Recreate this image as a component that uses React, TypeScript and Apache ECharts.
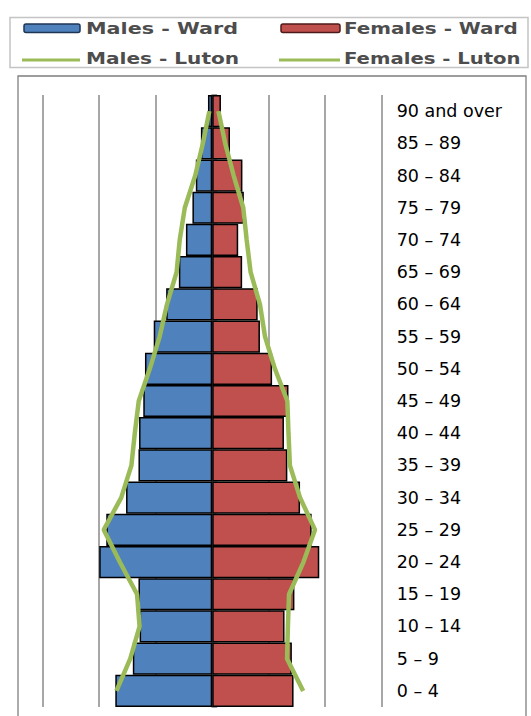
import React, { useEffect, useRef } from "react";
import * as echarts from "echarts";

const categories = [
  "0 – 4", "5 – 9", "10 – 14", "15 – 19", "20 – 24", "25 – 29", "30 – 34",
  "35 – 39", "40 – 44", "45 – 49", "50 – 54", "55 – 59", "60 – 64", "65 – 69",
  "70 – 74", "75 – 79", "80 – 84", "85 – 89", "90 and over",
];

const malesWard = [3.43, 2.81, 2.57, 2.61, 4.0, 3.75, 3.05, 2.61, 2.59, 2.44, 2.38, 2.07, 1.63, 1.18, 0.93, 0.7, 0.58, 0.4, 0.15];
const femalesWard = [2.88, 2.82, 2.56, 2.91, 3.79, 3.52, 3.11, 2.66, 2.54, 2.7, 2.12, 1.69, 1.61, 1.06, 0.92, 1.12, 1.07, 0.63, 0.31];
const malesLuton = [3.39, 2.9, 2.57, 2.66, 3.27, 3.84, 3.22, 2.86, 2.74, 2.6, 2.21, 1.86, 1.6, 1.26, 1.15, 0.97, 0.6, 0.33, 0.1];
const femalesLuton = [3.22, 2.65, 2.68, 2.72, 3.23, 3.64, 3.11, 2.75, 2.7, 2.66, 2.22, 1.87, 1.69, 1.36, 1.22, 1.1, 0.76, 0.46, 0.22];

const legendNames = ["Males - Ward", "Females - Ward", "Males - Luton", "Females - Luton"];

const BLUE = "#4F81BD";
const RED = "#C0504D";
const GREEN = "#9BBB59";
const GRID = "#8a8a8a";

export default function App() {
  const ref = useRef<HTMLDivElement>(null);

  useEffect(() => {
    if (!ref.current) return;
    const chart = echarts.init(ref.current, null, { renderer: "svg" });

    const legendFont = {
      fontFamily: "DejaVu Sans",
      fontWeight: "bold",
      fontSize: 15,
      fill: "#4d4d4d",
    };

    chart.setOption({
      animation: false,
      backgroundColor: "#ffffff",
      grid: { left: 42.7, right: 149.3, top: 95, height: 612, containLabel: false },
      xAxis: {
        type: "value",
        min: -6,
        max: 6,
        interval: 2,
        axisLabel: { show: false },
        axisLine: { show: false },
        axisTick: { show: false },
        splitLine: { show: true, lineStyle: { color: GRID, width: 1.5 } },
      },
      yAxis: [
        {
          type: "category",
          data: categories,
          position: "left",
          axisLine: { show: true, onZero: true, lineStyle: { color: "#7f7f7f", width: 1.5 } },
          axisTick: { show: true, inside: true, length: 5, lineStyle: { color: "#7f7f7f", width: 1.5 } },
          axisLabel: { show: false },
          splitLine: { show: false },
        },
        {
          type: "category",
          data: categories,
          position: "right",
          axisLine: { show: false },
          axisTick: { show: false },
          splitLine: { show: false },
          axisLabel: {
            show: true,
            interval: 0,
            margin: 15,
            fontFamily: "DejaVu Sans",
            fontSize: 17.5,
            color: "#000000",
          },
        },
      ],
      series: [
        {
          name: legendNames[0],
          type: "bar",
          yAxisIndex: 0,
          data: malesWard.map((v) => -v),
          barWidth: "100%",
          barGap: "-100%",
          barCategoryGap: "0%",
          itemStyle: { color: BLUE, borderColor: "#000000", borderWidth: 1.5 },
          z: 2,
        },
        {
          name: legendNames[1],
          type: "bar",
          yAxisIndex: 0,
          data: femalesWard,
          barWidth: "100%",
          barGap: "-100%",
          barCategoryGap: "0%",
          itemStyle: { color: RED, borderColor: "#000000", borderWidth: 1.5 },
          z: 2,
        },
        {
          name: legendNames[2],
          type: "line",
          yAxisIndex: 0,
          data: malesLuton.map((v, i) => [-v, categories[i]]),
          symbol: "none",
          lineStyle: { color: GREEN, width: 4.5 },
          z: 4,
        },
        {
          name: legendNames[3],
          type: "line",
          yAxisIndex: 0,
          data: femalesLuton.map((v, i) => [v, categories[i]]),
          symbol: "none",
          lineStyle: { color: GREEN, width: 4.5 },
          z: 4,
        },
      ],
      graphic: [
        {
          type: "rect",
          z: -10,
          silent: true,
          shape: { x: 18, y: 76, width: 508, height: 700 },
          style: { fill: "none", stroke: "#7f7f7f", lineWidth: 1.3 },
        },
        {
          type: "rect",
          z: -10,
          silent: true,
          shape: { x: 10, y: 17.5, width: 518, height: 50 },
          style: { fill: "#ffffff", stroke: "#c4c4c4", lineWidth: 1.5 },
        },
        {
          type: "rect",
          shape: { x: 24, y: 24, width: 56, height: 8.5, r: 2 },
          style: { fill: BLUE, stroke: "#1f3553", lineWidth: 1.5 },
        },
        {
          type: "text",
          x: 86,
          y: 28.5,
          scaleX: 1.38,
          style: { ...legendFont, text: legendNames[0], textAlign: "left", textVerticalAlign: "middle" },
        },
        {
          type: "rect",
          shape: { x: 281, y: 24, width: 59, height: 8.5, r: 2 },
          style: { fill: RED, stroke: "#4e1a18", lineWidth: 1.5 },
        },
        {
          type: "text",
          x: 344,
          y: 28.5,
          scaleX: 1.33,
          style: { ...legendFont, text: legendNames[1], textAlign: "left", textVerticalAlign: "middle" },
        },
        {
          type: "line",
          shape: { x1: 22, y1: 60, x2: 80, y2: 60 },
          style: { stroke: GREEN, lineWidth: 3 },
        },
        {
          type: "text",
          x: 86,
          y: 59,
          scaleX: 1.34,
          style: { ...legendFont, text: legendNames[2], textAlign: "left", textVerticalAlign: "middle" },
        },
        {
          type: "line",
          shape: { x1: 279, y1: 60, x2: 340, y2: 60 },
          style: { stroke: GREEN, lineWidth: 3 },
        },
        {
          type: "text",
          x: 344,
          y: 59,
          scaleX: 1.31,
          style: { ...legendFont, text: legendNames[3], textAlign: "left", textVerticalAlign: "middle" },
        },
      ],
    });

    return () => chart.dispose();
  }, []);

  return (
    <div
      ref={ref}
      style={{ position: "absolute", left: 0, top: 0, width: 531, height: 716, background: "#fff" }}
    />
  );
}
